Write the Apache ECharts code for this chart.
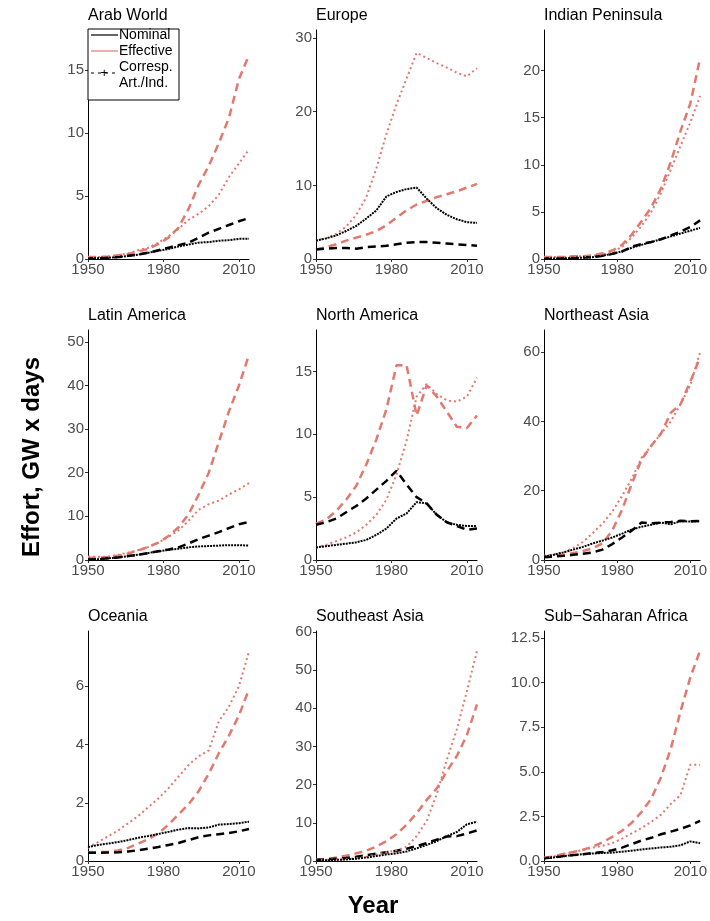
<!DOCTYPE html>
<html>
<head>
<meta charset="utf-8">
<title>Effort by region</title>
<script src="https://cdn.jsdelivr.net/npm/echarts@6/dist/echarts.min.js"></script>
<style>
  html, body { margin: 0; padding: 0; background: #fff; }
  #chart { width: 710px; height: 921px; }
</style>
</head>
<body>
<div id="chart"></div>
<script>
// 数据：每4年读一次
const years = [1950, 1954, 1958, 1962, 1966, 1970, 1974, 1978, 1982, 1986, 1990, 1994, 1998, 2002, 2006, 2010, 2014]

const regionNames = ['Arab World', 'Europe', 'Indian Peninsula', 'Latin America', 'North America',
  'Northeast Asia', 'Oceania', 'Southeast Asia', 'Sub\u2212Saharan Africa']

// Nominal / Effective / 对应 Art./Ind.
const arabNom = [0.05, 0.07, 0.1, 0.15, 0.25, 0.35, 0.5, 0.65, 0.8, 1.0, 1.15, 1.3, 1.35, 1.45, 1.5, 1.6, 1.6]
const arabEff = [0.15, 0.15, 0.2, 0.3, 0.45, 0.7, 0.9, 1.3, 1.8, 2.4, 3.1, 3.6, 4.2, 5.1, 6.5, 7.6, 8.7]
const arabNomAI = [0.05, 0.07, 0.1, 0.15, 0.25, 0.35, 0.5, 0.7, 0.9, 1.1, 1.3, 1.7, 2.1, 2.4, 2.7, 3.0, 3.25]
const arabEffAI = [0.15, 0.15, 0.2, 0.3, 0.4, 0.6, 0.8, 1.2, 1.7, 2.5, 4.0, 5.9, 7.4, 9.2, 11.2, 14.3, 16.2]

const europeNom = [2.5, 2.8, 3.2, 3.8, 4.5, 5.5, 6.6, 8.5, 9.1, 9.5, 9.7, 8.2, 6.9, 6.0, 5.4, 5.0, 4.9]
const europeEff = [2.5, 2.8, 3.4, 4.4, 6.0, 8.4, 12.3, 17.0, 21.0, 24.5, 28.0, 27.3, 26.6, 26.0, 25.3, 24.8, 25.9]
const europeNomAI = [1.3, 1.4, 1.5, 1.5, 1.4, 1.6, 1.7, 1.8, 2.0, 2.2, 2.3, 2.3, 2.2, 2.1, 2.0, 1.9, 1.8]
const europeEffAI = [1.3, 1.6, 2.0, 2.5, 2.9, 3.3, 3.8, 4.6, 5.6, 6.6, 7.4, 7.9, 8.4, 8.8, 9.2, 9.7, 10.2]

const indiaNom = [0.05, 0.05, 0.08, 0.1, 0.15, 0.2, 0.35, 0.55, 0.8, 1.2, 1.5, 1.8, 2.1, 2.4, 2.7, 3.0, 3.3]
const indiaEff = [0.2, 0.2, 0.2, 0.25, 0.3, 0.35, 0.5, 0.7, 1.3, 2.3, 3.5, 5.0, 7.0, 9.5, 12.0, 14.5, 17.3]
const indiaNomAI = [0.05, 0.05, 0.08, 0.1, 0.15, 0.2, 0.35, 0.55, 0.8, 1.3, 1.6, 1.8, 2.1, 2.5, 2.9, 3.4, 4.1]
const indiaEffAI = [0.2, 0.2, 0.2, 0.3, 0.3, 0.4, 0.6, 0.9, 1.5, 2.6, 4.0, 5.5, 7.5, 10.3, 13.6, 16.5, 21.3]

const latinNom = [0.1, 0.2, 0.4, 0.6, 0.9, 1.2, 1.6, 2.0, 2.3, 2.6, 2.9, 3.1, 3.2, 3.3, 3.4, 3.4, 3.3]
const latinEff = [0.8, 0.7, 0.8, 1.2, 1.7, 2.3, 3.0, 4.0, 5.3, 6.8, 9.0, 11.5, 12.8, 13.6, 15.0, 16.2, 17.6]
const latinNomAI = [0.1, 0.2, 0.4, 0.6, 0.9, 1.2, 1.6, 2.0, 2.4, 2.9, 3.8, 4.8, 5.6, 6.4, 7.3, 8.2, 8.7]
const latinEffAI = [0.5, 0.5, 0.7, 1.0, 1.5, 2.2, 3.0, 4.0, 5.5, 7.5, 10.5, 15.0, 20.0, 27.0, 34.0, 40.0, 47.0]

const northAmNom = [1.0, 1.1, 1.2, 1.3, 1.4, 1.6, 2.0, 2.5, 3.3, 3.7, 4.6, 4.5, 3.6, 3.0, 2.8, 2.7, 2.7]
const northAmEff = [1.0, 1.2, 1.5, 1.8, 2.2, 2.8, 3.6, 4.8, 6.8, 9.5, 13.0, 14.0, 13.2, 12.7, 12.6, 13.0, 14.5]
const northAmNomAI = [2.8, 3.0, 3.3, 3.8, 4.3, 4.9, 5.6, 6.3, 7.1, 6.0, 5.0, 4.5, 3.6, 3.0, 2.7, 2.4, 2.5]
const northAmEffAI = [2.9, 3.2, 3.9, 4.8, 5.9, 7.6, 9.6, 12.0, 15.5, 15.5, 11.5, 13.9, 13.0, 11.8, 10.6, 10.5, 11.5]

const neAsiaNom = [1.0, 1.5, 2.2, 3.0, 3.8, 4.8, 5.6, 6.5, 7.6, 8.8, 9.6, 10.2, 10.8, 10.3, 11.2, 11.1, 11.2]
const neAsiaEff = [1.2, 1.6, 2.2, 3.5, 5.2, 7.8, 10.5, 14.0, 18.5, 23.5, 29.5, 33.0, 36.5, 40.0, 45.0, 50.5, 60.0]
const neAsiaNomAI = [0.8, 1.0, 1.2, 1.5, 1.8, 2.2, 3.0, 4.6, 6.5, 8.5, 10.8, 10.6, 10.8, 11.0, 11.3, 11.2, 11.3]
const neAsiaEffAI = [1.0, 1.2, 1.5, 2.0, 2.6, 3.4, 4.8, 8.5, 14.5, 22.0, 29.0, 33.0, 36.5, 42.5, 45.0, 51.5, 58.5]

const oceaniaNom = [0.48, 0.55, 0.6, 0.65, 0.72, 0.8, 0.86, 0.93, 1.0, 1.08, 1.13, 1.12, 1.15, 1.25, 1.27, 1.3, 1.35]
const oceaniaEff = [0.45, 0.65, 0.85, 1.05, 1.3, 1.55, 1.85, 2.15, 2.5, 2.9, 3.3, 3.6, 3.8, 4.8, 5.3, 6.0, 7.2]
const oceaniaNomAI = [0.28, 0.28, 0.29, 0.3, 0.33, 0.37, 0.42, 0.48, 0.55, 0.62, 0.72, 0.82, 0.88, 0.92, 0.96, 1.02, 1.1]
const oceaniaEffAI = [0.3, 0.3, 0.32, 0.36, 0.45, 0.6, 0.75, 0.95, 1.25, 1.6, 1.95, 2.4, 3.0, 3.7, 4.3, 5.0, 5.9]

const seAsiaNom = [0.2, 0.2, 0.3, 0.4, 0.6, 0.9, 1.3, 1.7, 2.0, 2.5, 3.3, 4.2, 5.2, 6.5, 7.6, 9.6, 10.3]
const seAsiaEff = [0.3, 0.3, 0.4, 0.5, 0.7, 1.1, 1.7, 2.3, 2.8, 3.7, 6.5, 10.5, 17.5, 26.5, 34.5, 44.5, 55.0]
const seAsiaNomAI = [0.3, 0.4, 0.6, 0.8, 1.1, 1.5, 1.9, 2.3, 2.7, 3.2, 3.9, 4.7, 5.6, 6.4, 6.5, 7.2, 8.0]
const seAsiaEffAI = [0.3, 0.5, 0.9, 1.4, 2.0, 2.7, 3.8, 5.2, 7.0, 9.5, 12.5, 16.0, 19.0, 23.5, 27.5, 33.0, 41.0]

const ssAfricaNom = [0.15, 0.2, 0.28, 0.33, 0.38, 0.42, 0.45, 0.47, 0.52, 0.58, 0.65, 0.7, 0.76, 0.8, 0.88, 1.1, 1.0]
const ssAfricaEff = [0.18, 0.25, 0.4, 0.5, 0.62, 0.75, 0.85, 1.0, 1.25, 1.55, 1.85, 2.2, 2.6, 3.2, 3.7, 5.4, 5.4]
const ssAfricaNomAI = [0.15, 0.2, 0.28, 0.33, 0.38, 0.45, 0.5, 0.6, 0.75, 0.95, 1.15, 1.3, 1.5, 1.65, 1.8, 2.0, 2.25]
const ssAfricaEffAI = [0.18, 0.25, 0.4, 0.5, 0.63, 0.8, 1.05, 1.35, 1.7, 2.15, 2.75, 3.5, 4.7, 6.3, 8.4, 10.3, 11.8]

const regionSeries = [
  [arabNom, arabEff, arabNomAI, arabEffAI],
  [europeNom, europeEff, europeNomAI, europeEffAI],
  [indiaNom, indiaEff, indiaNomAI, indiaEffAI],
  [latinNom, latinEff, latinNomAI, latinEffAI],
  [northAmNom, northAmEff, northAmNomAI, northAmEffAI],
  [neAsiaNom, neAsiaEff, neAsiaNomAI, neAsiaEffAI],
  [oceaniaNom, oceaniaEff, oceaniaNomAI, oceaniaEffAI],
  [seAsiaNom, seAsiaEff, seAsiaNomAI, seAsiaEffAI],
  [ssAfricaNom, ssAfricaEff, ssAfricaNomAI, ssAfricaEffAI]
]

// 刻度
const xTicks = [1950, 1980, 2010]
const yTicks = [
  [0, 5, 10, 15], [0, 10, 20, 30], [0, 5, 10, 15, 20],
  [0, 10, 20, 30, 40, 50], [0, 5, 10, 15], [0, 20, 40, 60],
  [0, 2, 4, 6], [0, 10, 20, 30, 40, 50, 60], [0, 2.5, 5, 7.5, 10, 12.5]
]
const yMax = [18.2, 31.1, 24.3, 52.7, 18.3, 66.4, 7.9, 60.2, 12.9]

// 布局
const colLeft = [88, 316, 544]
const rowTop = [30, 330, 631]
const rowBottom = [259, 560, 861]
const FONT = 'Liberation Sans, Arial, Helvetica, sans-serif'
const SALMON = '#E2786E'

const grids = []
const xAxes = []
const yAxes = []
const series = []
const titles = []

regionNames.forEach((name, i) => {
  const col = i % 3
  const row = Math.floor(i / 3)
  grids.push({
    left: colLeft[col],
    top: rowTop[row],
    width: 161,
    height: rowBottom[row] - rowTop[row]
  })
  xAxes.push({
    gridIndex: i,
    type: 'value',
    min: 1950,
    max: 2014,
    axisLine: { show: true, onZero: false, lineStyle: { color: '#000', width: 1 } },
    axisTick: { show: true, customValues: xTicks, length: 3, lineStyle: { color: '#333' } },
    axisLabel: {
      customValues: xTicks,
      color: '#4d4d4d',
      fontSize: 15,
      fontFamily: FONT,
      margin: 3,
      formatter: (v) => String(v)
    },
    splitLine: { show: false }
  })
  yAxes.push({
    gridIndex: i,
    type: 'value',
    min: 0,
    max: yMax[i],
    axisLine: { show: true, onZero: false, lineStyle: { color: '#000', width: 1 } },
    axisTick: { show: true, customValues: yTicks[i], length: 3, lineStyle: { color: '#333' } },
    axisLabel: {
      customValues: yTicks[i],
      color: '#4d4d4d',
      fontSize: 15,
      fontFamily: FONT,
      margin: 4,
      formatter: i === 8 ? (v) => v.toFixed(1) : (v) => String(v)
    },
    splitLine: { show: false }
  })
  titles.push({
    text: name,
    left: colLeft[col],
    top: rowTop[row] - 22,
    padding: 0,
    textStyle: { fontSize: 16, fontWeight: 'normal', color: '#000', fontFamily: FONT }
  })

  const [nom, eff, nomAI, effAI] = regionSeries[i]
  const toPts = (arr) => years.map((y, k) => [y, arr[k]])
  const base = { type: 'line', xAxisIndex: i, yAxisIndex: i, symbol: 'none', silent: true, animation: false }
  series.push(
    { ...base, name: 'Effective Art./Ind.', data: toPts(effAI), lineStyle: { color: SALMON, width: 2.5, type: [8, 5] } },
    { ...base, name: 'Nominal Art./Ind.', data: toPts(nomAI), lineStyle: { color: '#000', width: 2.5, type: [8, 5] } },
    { ...base, name: 'Effective', data: toPts(eff), lineStyle: { color: SALMON, width: 2, type: [2, 3] } },
    { ...base, name: 'Nominal', data: toPts(nom), lineStyle: { color: '#000', width: 2, type: [2, 1] } }
  )
})

// 图例（Arab World 面板内）
const legendGraphic = [
  { type: 'rect', shape: { x: 88, y: 29, width: 91, height: 71 }, style: { fill: '#fff', stroke: '#000', lineWidth: 1 }, z: 100 },
  { type: 'line', shape: { x1: 91, y1: 35, x2: 118, y2: 35 }, style: { stroke: '#000', lineWidth: 1.2 }, z: 101 },
  { type: 'text', x: 119, y: 35, style: { text: 'Nominal', fill: '#000', font: '14px ' + FONT, verticalAlign: 'middle' }, z: 101 },
  { type: 'line', shape: { x1: 91, y1: 51, x2: 118, y2: 51 }, style: { stroke: SALMON, lineWidth: 1.2 }, z: 101 },
  { type: 'text', x: 119, y: 51, style: { text: 'Effective', fill: '#000', font: '14px ' + FONT, verticalAlign: 'middle' }, z: 101 },
  { type: 'line', shape: { x1: 91, y1: 73, x2: 118, y2: 73 }, style: { stroke: '#000', lineWidth: 1.2, lineDash: [3, 4] }, z: 101 },
  { type: 'text', x: 104, y: 73, style: { text: '+', fill: '#000', font: 'italic 13px ' + FONT, align: 'center', verticalAlign: 'middle' }, z: 102 },
  { type: 'text', x: 119, y: 67, style: { text: 'Corresp.', fill: '#000', font: '14px ' + FONT, verticalAlign: 'middle' }, z: 101 },
  { type: 'text', x: 119, y: 83, style: { text: 'Art./Ind.', fill: '#000', font: '14px ' + FONT, verticalAlign: 'middle' }, z: 101 },
  // 轴标题
  { type: 'text', x: 32, y: 457, rotation: Math.PI / 2, style: { text: 'Effort, GW x days', fill: '#000', font: 'bold 24px ' + FONT, align: 'center', verticalAlign: 'middle' } },
  { type: 'text', x: 373, y: 906, style: { text: 'Year', fill: '#000', font: 'bold 24px ' + FONT, align: 'center', verticalAlign: 'middle' } }
]

const chart = echarts.init(document.getElementById('chart'), null, { renderer: 'canvas' })
chart.setOption({
  backgroundColor: '#fff',
  animation: false,
  title: titles,
  grid: grids,
  xAxis: xAxes,
  yAxis: yAxes,
  series: series,
  graphic: legendGraphic
})
</script>
</body>
</html>
